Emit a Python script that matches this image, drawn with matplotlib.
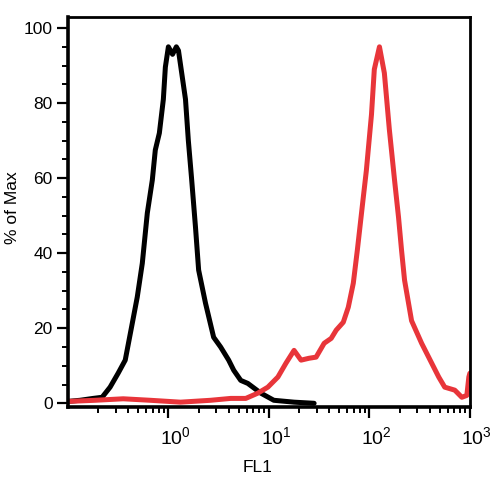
import matplotlib
matplotlib.use('Agg')
import matplotlib.pyplot as plt
from matplotlib.ticker import LogLocator, MultipleLocator, NullFormatter
from matplotlib.transforms import ScaledTranslation

plt.rcParams['font.family'] = ['Liberation Sans', 'DejaVu Sans']
plt.rcParams['mathtext.fontset'] = 'custom'
plt.rcParams['mathtext.rm'] = 'Liberation Sans'
plt.rcParams['mathtext.it'] = 'Liberation Sans:italic'

# control sample (black)
ctrl_fl1 = [0.100, 0.132, 0.178, 0.219, 0.263, 0.316, 0.372, 0.437, 0.490, 0.550,
            0.617, 0.692, 0.741, 0.813, 0.891, 0.933, 1.00, 1.10, 1.20, 1.26,
            1.48, 1.58, 1.70, 1.86, 2.00, 2.34, 2.82, 3.31, 3.98, 4.47,
            5.25, 6.17, 8.32, 11.2, 17.8, 28.2]
ctrl_pct = [0.5, 0.8, 1.3, 1.6, 4.3, 8, 11.5, 21.3, 28.3, 37.3,
            50.7, 59.5, 67.5, 72, 81, 89.6, 95, 93, 95, 94,
            81, 70, 60, 47, 35.5, 26.7, 17.6, 15, 11.5, 8.8,
            6.1, 5.3, 2.7, 0.8, 0.3, 0]

# stained sample (red)
stain_fl1 = [0.100, 0.186, 0.355, 0.661, 1.32, 2.63, 4.17, 5.89, 7.76, 9.77,
             12.3, 14.8, 17.8, 20.9, 25.1, 29.5, 35.5, 41.7, 46.8, 55.0,
             61.7, 69.2, 75.9, 87.1, 93.3, 105, 112, 126, 141, 158,
             178, 195, 209, 224, 263, 331, 417, 490, 562, 708,
             832, 933, 977, 1000]
stain_pct = [0.5, 0.8, 1.2, 0.8, 0.3, 0.8, 1.3, 1.3, 2.7, 4.3,
             7, 10.7, 14.1, 11.5, 12, 12.3, 16, 17.3, 19.5, 21.6,
             25.6, 32, 40.8, 55, 62, 77, 89, 95, 88, 73,
             59.5, 49.6, 40.8, 32.8, 22, 16, 10.7, 7, 4.3, 3.5,
             1.6, 2.1, 7, 8]

fig = plt.figure(figsize=(4.92, 4.8), dpi=100)
ax = fig.add_axes([0.138, 0.152, 0.817, 0.813])

ax.plot(ctrl_fl1, ctrl_pct, color='black', lw=3.6,
        solid_joinstyle='round', solid_capstyle='round')
ax.plot(stain_fl1, stain_pct, color='#e8353a', lw=3.6,
        solid_joinstyle='round', solid_capstyle='round')

ax.set_xscale('log')
ax.set_xlim(0.1, 1000)
ax.set_ylim(-1, 103)

ax.set_xticks([1, 10, 100, 1000])
ax.xaxis.set_minor_locator(LogLocator(base=10, subs=range(2, 10)))
ax.xaxis.set_minor_formatter(NullFormatter())
ax.yaxis.set_major_locator(MultipleLocator(20))
ax.yaxis.set_minor_locator(MultipleLocator(5))

ax.tick_params(which='major', direction='out', length=8, width=1.6, pad=3)
ax.tick_params(axis='y', labelsize=12.5)
ax.tick_params(axis='x', labelsize=14, pad=6)
ax.tick_params(which='minor', direction='out', length=4, width=1.4)

for side in ['left', 'bottom']:
    ax.spines[side].set_linewidth(2.6)
for side in ['top', 'right']:
    ax.spines[side].set_linewidth(2.0)

ax.set_xlabel('FL1', fontsize=12.5)
ax.set_ylabel('% of Max', fontsize=12.5)
ax.xaxis.set_label_coords(0.473, -0.135)
ax.yaxis.set_label_coords(-0.118, 0.51)

# shift the decade labels a bit to the right, as in the original
fig.canvas.draw()
shift = ScaledTranslation(7 / 100, 0, fig.dpi_scale_trans)
for lbl in ax.get_xticklabels():
    lbl.set_transform(lbl.get_transform() + shift)

fig.savefig('out.png', dpi=100)
